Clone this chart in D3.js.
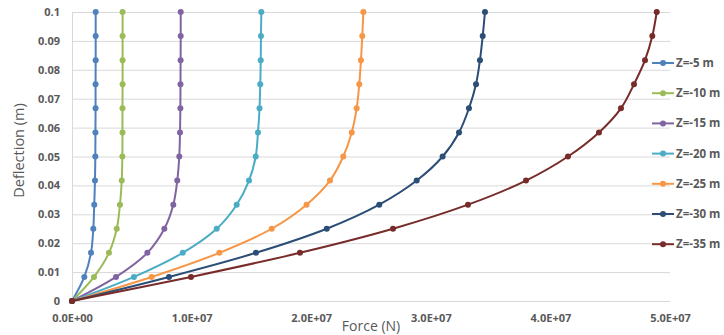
<!DOCTYPE html>
<html>
<head>
<meta charset="utf-8">
<script src="https://cdn.jsdelivr.net/npm/d3@7"></script>
<style>
    body { margin: 0; background: #fff; }
    text { font-family: "Open Sans", "Liberation Sans", sans-serif; fill: #595959; }
</style>
</head>
<body>
<div id="chart"></div>
<script>
// deflection (m), shared by every series
const deflection = [0, 0.00833, 0.01667, 0.025, 0.03333, 0.04167, 0.05, 0.05833, 0.06667, 0.075, 0.08333, 0.09167, 0.1];

// force (N), one array per depth
const z5  = [0, 1.03e6, 1.59e6, 1.78e6, 1.86e6, 1.92e6, 1.95e6, 1.96e6, 1.97e6, 1.97e6, 1.98e6, 1.98e6, 1.98e6];
const z10 = [0, 1.84e6, 3.09e6, 3.74e6, 4.01e6, 4.16e6, 4.21e6, 4.22e6, 4.22e6, 4.23e6, 4.23e6, 4.23e6, 4.23e6];
const z15 = [0, 3.68e6, 6.30e6, 7.72e6, 8.47e6, 8.80e6, 8.97e6, 9.03e6, 9.06e6, 9.07e6, 9.08e6, 9.09e6, 9.09e6];
const z20 = [0, 5.18e6, 9.26e6, 1.210e7, 1.377e7, 1.480e7, 1.536e7, 1.555e7, 1.568e7, 1.574e7, 1.578e7, 1.580e7, 1.583e7];
const z25 = [0, 6.66e6, 1.232e7, 1.670e7, 1.961e7, 2.157e7, 2.268e7, 2.339e7, 2.380e7, 2.402e7, 2.416e7, 2.427e7, 2.436e7];
const z30 = [0, 8.11e6, 1.538e7, 2.130e7, 2.569e7, 2.882e7, 3.099e7, 3.236e7, 3.319e7, 3.378e7, 3.411e7, 3.434e7, 3.453e7];
const z35 = [0, 9.95e6, 1.906e7, 2.684e7, 3.311e7, 3.796e7, 4.147e7, 4.406e7, 4.590e7, 4.699e7, 4.791e7, 4.852e7, 4.889e7];

const seriesNames = ["Z=-5 m", "Z=-10 m", "Z=-15 m", "Z=-20 m", "Z=-25 m", "Z=-30 m", "Z=-35 m"];
const seriesColors = ["#4F81BD", "#9BBB59", "#8064A2", "#4BACC6", "#F79646", "#2C4D75", "#772C2A"];
const seriesForces = [z5, z10, z15, z20, z25, z30, z35];

const xTicks = [0, 1e7, 2e7, 3e7, 4e7, 5e7];
const yTicks = [0, 0.01, 0.02, 0.03, 0.04, 0.05, 0.06, 0.07, 0.08, 0.09, 0.1];

const W = 724, H = 335;
const margin = {top: 12, right: 54, bottom: 34, left: 72};
const width = W - margin.left - margin.right;
const height = H - margin.top - margin.bottom;

const svg = d3.select("#chart").append("svg")
    .attr("width", W)
    .attr("height", H);

const g = svg.append("g")
    .attr("transform", `translate(${margin.left},${margin.top})`);

const x = d3.scaleLinear().domain([0, 5e7]).range([0, width]);
const y = d3.scaleLinear().domain([0, 0.1]).range([height, 0]);

// gridlines
g.selectAll(".grid")
    .data(yTicks)
    .enter().append("line")
    .attr("x1", 0)
    .attr("x2", width)
    .attr("y1", d => y(d) + 0.5)
    .attr("y2", d => y(d) + 0.5)
    .attr("stroke", "#d9d9d9")
    .attr("stroke-width", 1);

// vertical axis line
g.append("line")
    .attr("x1", 0.5).attr("x2", 0.5)
    .attr("y1", 0).attr("y2", height)
    .attr("stroke", "#d9d9d9");

// axes (labels only)
const xAxis = d3.axisBottom(x).tickValues(xTicks).tickSize(0).tickPadding(13)
    .tickFormat(d => d === 0 ? "0.0E+00" : (d / 1e7).toFixed(1) + "E+07");
const yAxis = d3.axisLeft(y).tickValues(yTicks).tickSize(0).tickPadding(12)
    .tickFormat(d => d3.format("")(+d.toFixed(2)));

g.append("g")
    .attr("transform", `translate(0,${height})`)
    .call(xAxis)
    .call(a => a.select(".domain").remove())
    .selectAll("text")
    .attr("font-size", "11px")
    .attr("font-weight", "bold")
    .attr("font-family", null)
    .attr("fill", "#595959");

g.append("g")
    .call(yAxis)
    .call(a => a.select(".domain").remove())
    .selectAll("text")
    .attr("font-size", "11px")
    .attr("font-weight", "bold")
    .attr("font-family", null)
    .attr("fill", "#595959");

// axis titles
svg.append("text")
    .text("Force (N)")
    .attr("x", margin.left + width / 2)
    .attr("y", 331)
    .attr("text-anchor", "middle")
    .attr("font-size", "14px");

svg.append("text")
    .text("Deflection (m)")
    .attr("transform", `translate(24,${margin.top + height / 2 - 6}) rotate(-90)`)
    .attr("text-anchor", "middle")
    .attr("font-size", "14.5px");

// lines
const line = d3.line()
    .x(d => x(d[0]))
    .y(d => y(d[1]))
    .curve(d3.curveCatmullRom.alpha(0.5));

seriesForces.forEach((forces, i) => {
    const pts = forces.map((f, j) => [f, deflection[j]]);
    g.append("path")
        .datum(pts)
        .attr("fill", "none")
        .attr("stroke", seriesColors[i])
        .attr("stroke-width", 2)
        .attr("d", line);
    g.selectAll(".pt" + i)
        .data(pts)
        .enter().append("circle")
        .attr("cx", d => x(d[0]))
        .attr("cy", d => y(d[1]))
        .attr("r", 3)
        .attr("fill", seriesColors[i]);
});

// legend
const legend = svg.append("g")
    .attr("transform", "translate(652,63)");

seriesNames.forEach((name, i) => {
    const row = legend.append("g").attr("transform", `translate(0,${i * 30.2})`);
    row.append("line")
        .attr("x1", 0).attr("x2", 22)
        .attr("y1", 0).attr("y2", 0)
        .attr("stroke", seriesColors[i])
        .attr("stroke-width", 2);
    row.append("circle")
        .attr("cx", 11).attr("cy", 0).attr("r", 3)
        .attr("fill", seriesColors[i]);
    row.append("text")
        .text(name)
        .attr("x", 24)
        .attr("y", 4)
        .attr("font-size", "11.5px")
        .attr("font-weight", "bold");
});
</script>
</body>
</html>
